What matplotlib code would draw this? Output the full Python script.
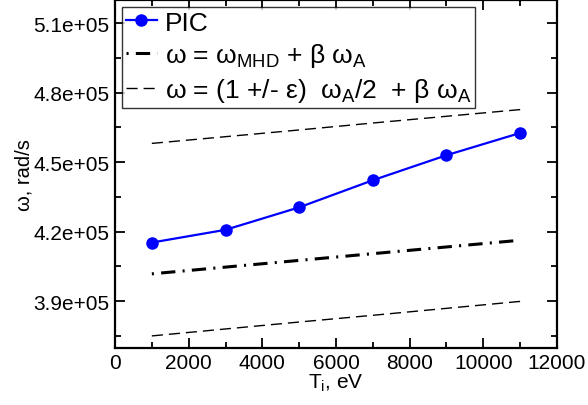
import matplotlib
matplotlib.use("Agg")
import matplotlib.pyplot as plt
from matplotlib.ticker import MultipleLocator

plt.rcParams['font.family'] = ['Liberation Sans', 'DejaVu Sans']
plt.rcParams['mathtext.fontset'] = 'custom'
plt.rcParams['mathtext.rm'] = 'Liberation Sans'
plt.rcParams['mathtext.it'] = 'Liberation Sans'
plt.rcParams['lines.scale_dashes'] = False

# Ion temperature (eV)
t_ion = [1000, 3000, 5000, 7000, 9000, 11000]
# PIC simulation frequencies (rad/s)
omega_pic = [4.153e5, 4.208e5, 4.305e5, 4.422e5, 4.530e5, 4.626e5]
# MHD + beta * omega_A estimate
omega_mhd = [4.018e5, 4.047e5, 4.076e5, 4.105e5, 4.134e5, 4.163e5]
# (1 +/- eps) omega_A/2 + beta omega_A bounds
omega_upper = [4.581e5, 4.610e5, 4.639e5, 4.669e5, 4.698e5, 4.727e5]
omega_lower = [3.750e5, 3.780e5, 3.810e5, 3.839e5, 3.869e5, 3.899e5]

fig = plt.figure(figsize=(5.88, 4.06), dpi=100)
ax = fig.add_axes([115/588, 1 - 348.5/406, 442/588, 348.5/406 - 1/406])

ax.plot(t_ion, omega_pic, color='#0000ff', lw=1.6, marker='o', ms=8,
        label='PIC', zorder=3)
ax.plot(t_ion, omega_mhd, color='black', lw=2.2,
        dashes=(0, 0.01, 1.5, 5.2, 10.3, 5.2),
        label=r'ω = ω$_{\mathrm{MHD}}$ + β ω$_{\mathrm{A}}$')
ax.plot(t_ion, omega_upper, color='black', lw=1.0, dashes=(8, 4.3),
        label=r'ω = (1 +/- ε)  ω$_{\mathrm{A}}$/2  + β ω$_{\mathrm{A}}$')
ax.plot(t_ion, omega_lower, color='black', lw=1.0, dashes=(8, 4.3))

ax.set_xlim(0, 12000)
ax.set_ylim(3.7e5, 5.2e5)
ax.xaxis.set_major_locator(MultipleLocator(2000))
ax.xaxis.set_minor_locator(MultipleLocator(1000))
ax.yaxis.set_major_locator(MultipleLocator(0.3e5))
ax.yaxis.set_minor_locator(MultipleLocator(0.15e5))
ax.yaxis.set_major_formatter(plt.FuncFormatter(lambda v, p: f"{v:.1e}"))

ax.tick_params(which='both', direction='in', top=True, right=True,
               width=1.3, labelsize=15, pad=4)
ax.tick_params(which='major', length=7)
ax.tick_params(which='minor', length=4)
for s in ax.spines.values():
    s.set_linewidth(1.6)

ax.set_xlabel(r'T$_{\mathrm{i}}$, eV', fontsize=15, labelpad=0)
ax.set_ylabel('ω, rad/s', fontsize=14.5, labelpad=0)

leg = ax.legend(loc='upper left', fontsize=19, frameon=True, fancybox=False,
                edgecolor='black', handlelength=1.2, handletextpad=0.3,
                borderaxespad=0.25, borderpad=0.15, labelspacing=0.25)
leg.get_frame().set_linewidth(1.0)

fig.savefig('out.png', dpi=100)
